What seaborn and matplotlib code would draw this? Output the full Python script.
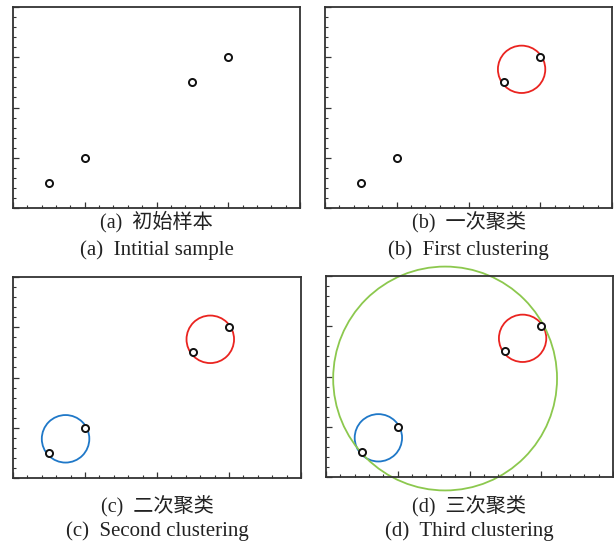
import numpy as np
import pandas as pd
import seaborn as sns
import matplotlib.pyplot as plt
from matplotlib.patches import Ellipse
from matplotlib.ticker import MultipleLocator, NullFormatter

# sample points
pt_x = [0.5, 1.0, 2.5, 3.0]
pt_y = [0.5, 1.0, 2.5, 3.0]

# clusters: center and radius (in x data units)
clu_names = ['blue', 'red', 'green']
clu_cx = [0.73, 2.74, 1.66]
clu_cy = [0.78, 2.76, 1.96]
clu_r = [0.33, 0.33, 1.56]
clu_color = {'blue': '#1f78c8', 'red': '#ea2420', 'green': '#8cc84e'}

# which clusters each panel shows
panel_clusters = [[], ['red'], ['blue', 'red'], ['blue', 'red', 'green']]
cap_cn = ['(a)  初始样本', '(b)  一次聚类', '(c)  二次聚类', '(d)  三次聚类']
cap_en = ['(a)  Intitial sample', '(b)  First clustering',
          '(c)  Second clustering', '(d)  Third clustering']

sns.set_style('ticks')
plt.rcParams['font.family'] = ['Liberation Serif', 'Noto Sans CJK SC']

W, H = 614, 544
fig = plt.figure(figsize=(W / 100, H / 100), dpi=100)

# axes boxes in pixels: left, top, right, bottom
boxes = [(13, 7, 300, 208), (325, 7, 612, 208),
         (13, 277, 301, 478), (326, 276, 613, 477)]
cap_y = [(222, 250), (222, 250), (506, 531), (506, 531)]

df = pd.DataFrame({'x': pt_x, 'y': pt_y})

for i, (l, t, r, b) in enumerate(boxes):
    ax = fig.add_axes([l / W, 1 - b / H, (r - l) / W, (b - t) / H])
    ax.set_xlim(0, 4)
    ax.set_ylim(0, 4)
    # keep circles round on screen
    aspect = ((r - l) / 4) / ((b - t) / 4)
    for name in panel_clusters[i]:
        k = clu_names.index(name)
        e = Ellipse((clu_cx[k], clu_cy[k]), 2 * clu_r[k], 2 * clu_r[k] * aspect,
                    fill=False, edgecolor=clu_color[name], lw=1.3,
                    clip_on=False, zorder=2)
        ax.add_patch(e)
    sns.scatterplot(data=df, x='x', y='y', ax=ax, marker='o', s=26,
                    facecolor='white', edgecolor='#111111', linewidth=1.4,
                    zorder=3, clip_on=False)
    ax.set_xlabel('')
    ax.set_ylabel('')
    ax.xaxis.set_major_locator(MultipleLocator(1))
    ax.xaxis.set_minor_locator(MultipleLocator(0.2))
    ax.yaxis.set_major_locator(MultipleLocator(1))
    ax.yaxis.set_minor_locator(MultipleLocator(0.2))
    ax.xaxis.set_major_formatter(NullFormatter())
    ax.yaxis.set_major_formatter(NullFormatter())
    ax.tick_params(which='major', direction='in', length=4, width=0.9,
                   color='#333333', top=False, right=False)
    ax.tick_params(which='minor', direction='in', length=2.4, width=0.8,
                   color='#333333', top=False, right=False)
    for s in ax.spines.values():
        s.set_visible(True)
        s.set_color('#333333')
        s.set_linewidth(1.3)
    cx = (l + r) / 2 / W
    fig.text(cx, 1 - cap_y[i][0] / H, cap_cn[i], ha='center', va='center',
             fontsize=14.5, color='#222222')
    fig.text(cx, 1 - cap_y[i][1] / H, cap_en[i], ha='center', va='center',
             fontsize=15, color='#222222')

fig.savefig('out.png', dpi=100)
